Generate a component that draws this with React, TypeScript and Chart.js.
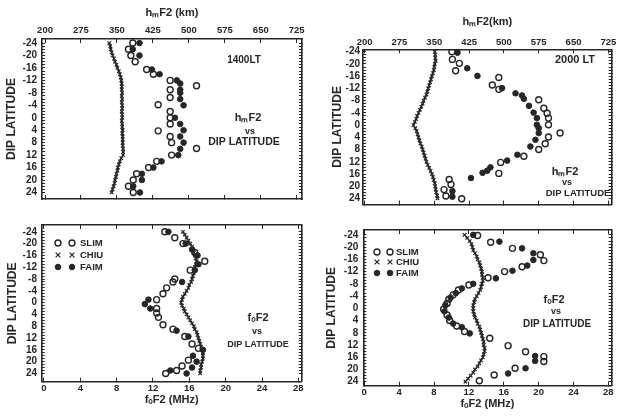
import React, { useEffect, useRef } from "react";
import { Chart, registerables } from "chart.js";
Chart.register(...registerables);

// ---------------- data ----------------
const latTicks = [-24, -23, -22, -21, -20, -19, -18, -17, -16, -15, -14, -13, -12, -11, -10, -9, -8, -7, -6, -5, -4, -3, -2, -1, 0,
  1, 2, 3, 4, 5, 6, 7, 8, 9, 10, 11, 12, 13, 14, 15, 16, 17, 18, 19, 20, 21, 22, 23, 24];
const latLabelStep = 4;
const hmTicks = [200, 275, 350, 425, 500, 575, 650, 725];
const foTicks = [0, 4, 8, 12, 16, 20, 24, 28];

const chiuLat = [-24, -23, -22, -21, -20, -19, -18, -17, -16, -15, -14, -13, -12, -11, -10, -9, -8, -7, -6, -5, -4, -3, -2, -1, 0,
  1, 2, 3, 4, 5, 6, 7, 8, 9, 10, 11, 12, 13, 14, 15, 16, 17, 18, 19, 20, 21, 22, 23, 24];

// hmF2 1400 LT (km)
const hm1400Chiu = [334, 336, 337, 339, 341, 344, 346, 349, 351, 354, 356, 358, 359, 360, 360, 360, 361, 360, 361, 360, 361, 361, 360, 361, 361,
  360, 361, 361, 362, 361, 362, 362, 362, 362, 363, 363, 363, 359, 356, 354, 352, 351, 349, 348, 346, 345, 343, 341, 339];
const hm1400SlimLat = [-24, -22, -20, -18, -15.5, -14, -12, -10.3, -9, -6.5, -4.2, -2, 0, 2, 4.2, 6, 8, 9.9, 12, 14, 16, 18, 20, 22, 24];
const hm1400SlimKm = [383, 374, 379, 388, 412, 426, 461, 516, 461, 461, 436, 461, 461, 461, 436, 461, 464, 516, 464, 433, 416, 391, 384, 374, 384];
const hm1400FaimLat = [-24, -22, -20, -15.5, -14, -12, -11, -9, -8, -6, -4, 0, 2, 4, 6, 8, 10, 12, 14, 16, 18, 20, 22, 24];
const hm1400FaimKm = [397, 383, 397, 423, 439, 475, 482, 482, 482, 482, 489, 471, 482, 489, 482, 489, 482, 478, 443, 426, 402, 402, 384, 398];

// hmF2 2000 LT (km)
const hm2000Chiu = [351, 352, 352, 353, 351, 350, 349, 347, 345, 343, 341, 339, 337, 335, 333, 330, 327, 325, 322, 319, 316, 313, 311, 308, 305,
  309, 312, 314, 316, 318, 320, 323, 325, 327, 329, 331, 333, 336, 339, 342, 345, 347, 349, 351, 352, 353, 354, 356, 357];
const hm2000SlimLat = [-24, -21.5, -20.2, -17.8, -15.6, -13.1, -11.7, -8.3, -5.5, -3.9, -2.3, -0.1, 2.6, 3.9, 6.1, 8, 10.2, 12.2, 15.8, 17.8, 19.4, 21.1, 23.2, 24.1];
const hm2000SlimKm = [388, 389, 404, 396, 489, 475, 489, 575, 586, 593, 596, 596, 621, 596, 589, 575, 543, 493, 489, 382, 386, 371, 375, 409];
const hm2000FaimLat = [-23.7, -18.6, -16.1, -12.1, -10.4, -9.7, -8.6, -6.3, -4.1, -2.3, -0.1, 1, 2.6, 4.8, 7, 9.7, 11.6, 13.8, 14.9, 15.6, 17.3, 21.6, 23.4];
const hm2000FaimKm = [400, 421, 443, 496, 525, 539, 543, 554, 564, 571, 571, 575, 575, 568, 557, 529, 507, 471, 464, 454, 429, 389, 389];

// foF2 1400 LT (MHz)
const fo1400Chiu = [15.3, 15.5, 15.7, 15.9, 16.1, 16.3, 16.4, 16.5, 16.6, 16.7, 16.8, 16.7, 16.6, 16.6, 16.5, 16.4, 16.3, 16.2, 16.0, 15.9, 15.7, 15.5, 15.3, 15.2, 15.1,
  15.2, 15.4, 15.5, 15.7, 15.9, 16.1, 16.3, 16.5, 16.6, 16.8, 16.9, 17.0, 17.1, 17.2, 17.3, 17.4, 17.5, 17.5, 17.5, 17.4, 17.3, 17.3, 17.2, 17.2];
const fo1400SlimLat = [-24, -22, -20, -17, -14, -11, -8, -7, -5, -3, -1, 2, 3.5, 5, 7.5, 9, 11.5, 14, 15.5, 19.5, 21.5, 23, 24];
const fo1400SlimMHz = [13.3, 14.4, 15.3, 16.6, 17.7, 16.1, 14.4, 14.2, 13.5, 13.1, 12.4, 12.4, 12.4, 12.6, 13.1, 14.2, 15.5, 16.3, 17.0, 15.9, 15.2, 14.6, 13.4];
const fo1400FaimLat = [-24, -20, -18, -16, -13, -11, -7, -1, 0.5, 2, 9.5, 11.5, 16, 18, 20, 22, 23, 24];
const fo1400FaimMHz = [13.7, 15.6, 16.3, 16.9, 17.0, 16.6, 15.2, 11.5, 11.1, 11.7, 14.6, 15.9, 17.5, 16.4, 16.8, 16.3, 13.9, 15.7];

// foF2 2000 LT (MHz)
const fo2000Chiu = [11.5, 11.8, 12.1, 12.3, 12.4, 12.5, 12.7, 12.9, 13.0, 13.2, 13.3, 13.4, 13.5, 13.5, 13.6, 13.6, 13.5, 13.4, 13.3, 13.1, 12.9, 12.7, 12.6, 12.5, 12.5,
  12.5, 12.6, 12.7, 12.9, 13.0, 13.2, 13.3, 13.4, 13.5, 13.6, 13.7, 13.7, 13.8, 13.8, 13.7, 13.6, 13.4, 13.2, 13.0, 12.7, 12.5, 12.2, 11.9, 11.6];
const fo2000SlimLat = [-23.8, -21.6, -19.6, -17.5, -15.6, -13.6, -12, -10, -7.6, -6, -4.4, -3, -1.6, 0.3, 2.2, 4, 5.8, 7.6, 9.8, 12.2, 14.2, 15.8, 17.4, 19.6, 21.8, 23.7];
const fo2000SlimMHz = [13.0, 14.5, 17.0, 20.2, 20.6, 18.1, 16.1, 14.2, 12.0, 10.8, 10.2, 9.7, 9.5, 9.1, 9.5, 9.8, 10.6, 11.5, 14.4, 16.5, 18.5, 20.6, 20.6, 17.3, 14.9, 13.2];
const fo2000FaimLat = [-24, -21.8, -19.6, -18, -15.8, -14, -12.3, -9.8, -8, -6.5, -5, -3.5, -1, 1, 3, 5, 6.2, 8.2, 15.6, 17.2, 19.6, 21.3];
const fo2000FaimMHz = [12.5, 15.5, 18.1, 19.4, 19.4, 18.7, 17.0, 15.1, 12.5, 11.2, 10.5, 9.9, 9.3, 9.2, 9.7, 10.2, 11.2, 12.1, 19.6, 19.6, 18.5, 16.5];

// ---------------- styling ----------------
const FONT = '"Liberation Sans", Arial, sans-serif';
const NARROW = '"Liberation Sans Narrow", "Liberation Sans", sans-serif';
const INK = "#262626";

function pts(lat: number[], val: number[]) {
  return lat.map((la, i) => ({ x: val[i], y: la }));
}

function makeSets(slimLat: number[], slimVal: number[], chiuVal: number[], faimLat: number[], faimVal: number[]) {
  return [
    {
      label: "SLIM", data: pts(slimLat, slimVal), xAxisID: "x", yAxisID: "y",
      pointStyle: "circle", pointRadius: 3, pointBorderWidth: 1.4,
      borderColor: INK, backgroundColor: "rgba(255,255,255,0)", showLine: false,
    },
    {
      label: "CHIU", data: pts(chiuLat, chiuVal), xAxisID: "x", yAxisID: "y",
      pointStyle: "crossRot", pointRadius: 2.4, pointBorderWidth: 1.2,
      borderColor: INK, backgroundColor: INK, borderWidth: 1.2, showLine: true, tension: 0,
    },
    {
      label: "FAIM", data: pts(faimLat, faimVal), xAxisID: "x", yAxisID: "y",
      pointStyle: "circle", pointRadius: 2.8, pointBorderWidth: 1,
      borderColor: INK, backgroundColor: INK, showLine: false,
    },
  ];
}

type Txt = { text: string; x: number; y: number; size: number };
type Panel = {
  left: number; top: number; width: number; height: number;
  box: { l: number; t: number; r: number; b: number };
  xMin: number; xMax: number; xTicks: number[]; xPos: "top" | "bottom"; xTitle: string;
  yMin: number; yMax: number;
  yTitlePad: number; yLabelPad: number; xTitlePad: number; xLabelPad: number;
  datasets: any[];
  texts: Txt[];
  legend?: { x1: number; x2: number; x3: number; ys: number[] };
};

const panels: Panel[] = [
  {
    left: 0, top: 0, width: 310, height: 210,
    box: { l: 42, t: 39, r: 302, b: 199 },
    xMin: 193.7, xMax: 736, xTicks: hmTicks, xPos: "top", xTitle: "h\u2098F2 (km)",
    yMin: -25.3, yMax: 26.1,
    yTitlePad: 4.8, yLabelPad: 8, xTitlePad: 6.4, xLabelPad: 7.3,
    datasets: makeSets(hm1400SlimLat, hm1400SlimKm, hm1400Chiu, hm1400FaimLat, hm1400FaimKm),
    texts: [
      { text: "1400LT", x: 244, y: 60, size: 10 },
      { text: "h\u2098F2", x: 248, y: 118, size: 11 },
      { text: "vs", x: 250, y: 132, size: 9 },
      { text: "DIP LATITUDE", x: 244, y: 142, size: 10.5 },
    ],
  },
  {
    left: 310, top: 0, width: 307, height: 210,
    box: { l: 363, t: 49.3, r: 613.3, b: 205 },
    xMin: 196.4, xMax: 732, xTicks: hmTicks, xPos: "top", xTitle: "h\u2098F2(km)",
    yMin: -24.8, yMax: 26,
    yTitlePad: 20.8, yLabelPad: 6, xTitlePad: 15.4, xLabelPad: 5.6,
    datasets: makeSets(hm2000SlimLat, hm2000SlimKm, hm2000Chiu, hm2000FaimLat, hm2000FaimKm),
    texts: [
      { text: "2000 LT", x: 575, y: 60, size: 11 },
      { text: "h\u2098F2", x: 565, y: 172, size: 11 },
      { text: "vs", x: 567, y: 183, size: 9 },
      { text: "DIP LATITUDE", x: 578, y: 193, size: 9.5 },
    ],
  },
  {
    left: 0, top: 210, width: 310, height: 207,
    box: { l: 41.7, t: 225, r: 301.7, b: 381.7 },
    xMin: -0.25, xMax: 28.37, xTicks: foTicks, xPos: "bottom", xTitle: "f\u2092F2 (MHz)",
    yMin: -26.3, yMax: 26.8,
    yTitlePad: 5.8, yLabelPad: 7.7, xTitlePad: 10.4, xLabelPad: 4.6,
    datasets: makeSets(fo1400SlimLat, fo1400SlimMHz, fo1400Chiu, fo1400FaimLat, fo1400FaimMHz),
    texts: [
      { text: "f\u2092F2", x: 258, y: 318, size: 11 },
      { text: "vs", x: 257, y: 332, size: 9 },
      { text: "DIP LATITUDE", x: 258, y: 345, size: 9 },
    ],
    legend: { x1: 58, x2: 72, x3: 80, ys: [243, 255, 267] },
  },
  {
    left: 310, top: 210, width: 307, height: 207,
    box: { l: 363.3, t: 230, r: 613.3, b: 385.7 },
    xMin: -0.11, xMax: 28.37, xTicks: foTicks, xPos: "bottom", xTitle: "f\u2092F2 (MHz)",
    yMin: -25.6, yMax: 25.3,
    yTitlePad: 14.8, yLabelPad: 8, xTitlePad: 6.4, xLabelPad: 4.6,
    datasets: makeSets(fo2000SlimLat, fo2000SlimMHz, fo2000Chiu, fo2000FaimLat, fo2000FaimMHz),
    texts: [
      { text: "f\u2092F2", x: 554, y: 300, size: 11 },
      { text: "vs", x: 556, y: 312, size: 9 },
      { text: "DIP LATITUDE", x: 557, y: 324, size: 10 },
    ],
    legend: { x1: 377, x2: 390, x3: 396, ys: [252, 262, 273] },
  },
];

function drawMark(ctx: CanvasRenderingContext2D, ds: any, x: number, y: number) {
  ctx.strokeStyle = INK;
  ctx.fillStyle = INK;
  ctx.lineWidth = ds.pointBorderWidth;
  ctx.beginPath();
  if (ds.pointStyle === "crossRot") {
    const r = ds.pointRadius;
    ctx.moveTo(x - r, y - r); ctx.lineTo(x + r, y + r);
    ctx.moveTo(x + r, y - r); ctx.lineTo(x - r, y + r);
    ctx.stroke();
  } else {
    ctx.arc(x, y, ds.pointRadius, 0, Math.PI * 2);
    if (ds.backgroundColor === INK) ctx.fill();
    ctx.stroke();
  }
}

function makeTextPlugin(p: Panel) {
  return {
    id: "panelText",
    afterDraw(chart: any) {
      const ctx: CanvasRenderingContext2D = chart.ctx;
      ctx.save();
      ctx.fillStyle = INK;
      ctx.textBaseline = "middle";
      ctx.textAlign = "center";
      for (const t of p.texts) {
        ctx.font = `bold ${t.size}px ${FONT}`;
        ctx.fillText(t.text, t.x - p.left, t.y - p.top);
      }
      if (p.legend) {
        const L = p.legend;
        chart.data.datasets.forEach((ds: any, i: number) => {
          const y = L.ys[i] - p.top;
          drawMark(ctx, ds, L.x1 - p.left, y);
          drawMark(ctx, ds, L.x2 - p.left, y);
          ctx.fillStyle = INK;
          ctx.font = `bold 9.5px ${FONT}`;
          ctx.textAlign = "left";
          ctx.fillText(ds.label, L.x3 - p.left, y);
        });
      }
      ctx.restore();
    },
  };
}

function buildConfig(p: Panel): any {
  const yW = p.box.l - p.left;
  const y2W = p.left + p.width - p.box.r;
  const topH = p.box.t - p.top;
  const botH = p.top + p.height - p.box.b;
  const setTicks = (vals: number[]) => (scale: any) => {
    scale.ticks = vals.map((v) => ({ value: v }));
  };
  const fixV = (w: number) => (s: any) => { s.width = w; s.paddingTop = 0; s.paddingBottom = 0; s.paddingLeft = 0; s.paddingRight = 0; };
  const fixH = (h: number) => (s: any) => { s.height = h; s.paddingTop = 0; s.paddingBottom = 0; s.paddingLeft = 0; s.paddingRight = 0; };
  const grid = (len: number) => ({ drawOnChartArea: false, drawTicks: true, tickLength: len, color: INK, lineWidth: 1 });
  const border = { display: true, color: INK, width: 1.6 };
  const xOther = p.xPos === "top" ? "bottom" : "top";
  return {
    type: "scatter",
    data: { datasets: p.datasets },
    plugins: [makeTextPlugin(p)],
    options: {
      responsive: false,
      animation: false,
      maintainAspectRatio: false,
      layout: { padding: 0 },
      plugins: { legend: { display: false }, tooltip: { enabled: false }, title: { display: false } },
      scales: {
        x: {
          type: "linear", position: p.xPos, min: p.xMin, max: p.xMax,
          afterBuildTicks: setTicks(p.xTicks),
          afterFit: fixH(p.xPos === "top" ? topH : botH),
          ticks: { font: { family: NARROW, size: 9.5, weight: "bold" }, color: INK, padding: p.xLabelPad, maxRotation: 0, autoSkip: false },
          grid: grid(-4), border,
          title: { display: true, text: p.xTitle, color: INK, font: { family: FONT, size: 11, weight: "bold" }, padding: { top: p.xTitlePad, bottom: p.xTitlePad } },
        },
        x2: {
          type: "linear", position: xOther, min: p.xMin, max: p.xMax,
          afterBuildTicks: setTicks(p.xTicks),
          afterFit: fixH(p.xPos === "top" ? botH : topH),
          ticks: { display: false },
          grid: grid(-4), border,
        },
        y: {
          type: "linear", position: "left", reverse: true, min: p.yMin, max: p.yMax,
          afterBuildTicks: setTicks(latTicks),
          afterFit: fixV(yW),
          ticks: {
            font: { family: FONT, size: 10, weight: "bold" }, color: INK, padding: p.yLabelPad, autoSkip: false,
            callback: (v: number) => (v % latLabelStep === 0 ? String(v) : ""),
          },
          grid: grid(-3), border,
          title: { display: true, text: "DIP LATITUDE", color: INK, font: { family: FONT, size: 12, weight: "bold" }, padding: { top: p.yTitlePad, bottom: p.yTitlePad } },
        },
        y2: {
          type: "linear", position: "right", reverse: true, min: p.yMin, max: p.yMax,
          afterBuildTicks: setTicks(latTicks),
          afterFit: fixV(y2W),
          ticks: { display: false },
          grid: grid(-3), border,
        },
      },
    },
  };
}

function PanelChart({ p }: { p: Panel }) {
  const ref = useRef<HTMLCanvasElement>(null);
  useEffect(() => {
    const chart = new Chart(ref.current as HTMLCanvasElement, buildConfig(p));
    return () => chart.destroy();
  }, [p]);
  return (
    <canvas
      ref={ref}
      width={p.width}
      height={p.height}
      style={{ position: "absolute", left: p.left, top: p.top, width: p.width, height: p.height }}
    />
  );
}

export default function App() {
  return (
    <div style={{ position: "absolute", left: 0, top: 0, width: 617, height: 417, background: "#fff", overflow: "hidden" }}>
      {panels.map((p, i) => (
        <PanelChart key={i} p={p} />
      ))}
    </div>
  );
}
